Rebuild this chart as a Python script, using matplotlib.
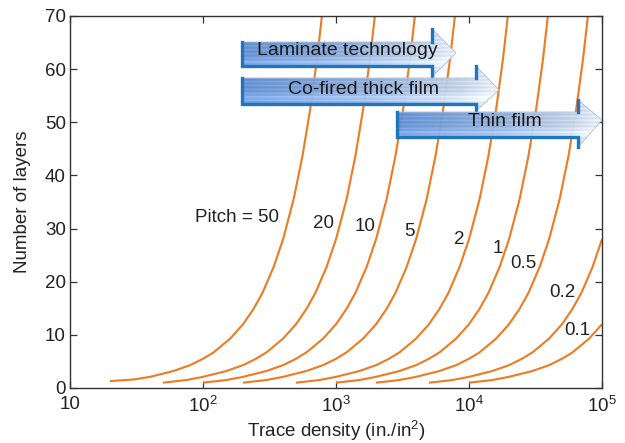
import numpy as np
import matplotlib
matplotlib.use("Agg")
import matplotlib.pyplot as plt
from matplotlib.patches import Polygon
from matplotlib.ticker import FixedLocator, FixedFormatter, NullLocator

plt.rcParams['font.family'] = ['Liberation Sans', 'DejaVu Sans']
plt.rcParams['mathtext.fontset'] = 'custom'
plt.rcParams['mathtext.rm'] = 'Liberation Sans'
plt.rcParams['mathtext.it'] = 'Liberation Sans:italic'

# ---- data: pitch -> (trace density, number of layers) ----
pitch_labels = ["Pitch = 50", "20", "10", "5", "2", "1", "0.5", "0.2", "0.1"]

density_p50 = [20, 30, 40, 60, 80, 100, 120, 160, 200, 240, 280, 340, 400, 480, 560, 640, 720, 800]
layers_p50 = [1.3, 1.6, 2.1, 3.2, 4.3, 5.5, 6.7, 9.3, 12.0, 14.9, 17.9, 22.8, 28.0, 35.5, 43.7, 52.5, 61.9, 72.0]

density_p20 = [50, 75, 100, 150, 200, 250, 300, 400, 500, 600, 700, 850, 1000, 1200, 1400, 1600, 1800, 2000]
layers_p20 = [1.0, 1.5, 2.1, 3.2, 4.3, 5.5, 6.7, 9.3, 12.0, 14.9, 17.9, 22.8, 28.0, 35.5, 43.7, 52.5, 61.9, 72.0]

density_p10 = [100, 150, 200, 300, 400, 500, 600, 800, 1000, 1200, 1400, 1700, 2000, 2400, 2800, 3200, 3600, 4000]
layers_p10 = [1.0, 1.5, 2.1, 3.2, 4.3, 5.5, 6.7, 9.3, 12.0, 14.9, 17.9, 22.8, 28.0, 35.5, 43.7, 52.5, 61.9, 72.0]

density_p5 = [200, 300, 400, 600, 800, 1000, 1200, 1600, 2000, 2400, 2800, 3400, 4000, 4800, 5600, 6400, 7200, 8000]
layers_p5 = [1.0, 1.5, 2.1, 3.2, 4.3, 5.5, 6.7, 9.3, 12.0, 14.9, 17.9, 22.8, 28.0, 35.5, 43.7, 52.5, 61.9, 72.0]

density_p2 = [500, 750, 1000, 1500, 2000, 2500, 3000, 4000, 5000, 6000, 7000, 8500, 10000, 12000, 14000, 16000, 18000, 20000]
layers_p2 = [1.0, 1.5, 2.1, 3.2, 4.3, 5.5, 6.7, 9.3, 12.0, 14.9, 17.9, 22.8, 28.0, 35.5, 43.7, 52.5, 61.9, 72.0]

density_p1 = [1000, 1500, 2000, 3000, 4000, 5000, 6000, 8000, 10000, 12000, 14000, 17000, 20000, 24000, 28000, 32000, 36000, 40000]
layers_p1 = [1.0, 1.5, 2.1, 3.2, 4.3, 5.5, 6.7, 9.3, 12.0, 14.9, 17.9, 22.8, 28.0, 35.5, 43.7, 52.5, 61.9, 72.0]

density_p05 = [2000, 3000, 4000, 6000, 8000, 10000, 12000, 16000, 20000, 24000, 28000, 34000, 40000, 48000, 56000, 64000, 72000, 80000]
layers_p05 = [1.0, 1.5, 2.1, 3.2, 4.3, 5.5, 6.7, 9.3, 12.0, 14.9, 17.9, 22.8, 28.0, 35.5, 43.7, 52.5, 61.9, 72.0]

density_p02 = [5000, 7500, 10000, 15000, 20000, 25000, 30000, 40000, 50000, 60000, 70000, 85000, 100000]
layers_p02 = [1.0, 1.5, 2.1, 3.2, 4.3, 5.5, 6.7, 9.3, 12.0, 14.9, 17.9, 22.8, 28.0]

density_p01 = [10000, 15000, 20000, 30000, 40000, 50000, 60000, 80000, 100000]
layers_p01 = [1.0, 1.5, 2.1, 3.2, 4.3, 5.5, 6.7, 9.3, 12.0]

curves = [
    (density_p50, layers_p50), (density_p20, layers_p20), (density_p10, layers_p10),
    (density_p5, layers_p5), (density_p2, layers_p2), (density_p1, layers_p1),
    (density_p05, layers_p05), (density_p02, layers_p02), (density_p01, layers_p01),
]

# label anchor positions (data coordinates)
label_x = [180, 800, 1650, 3550, 8400, 16500, 25500, 50000, 65000]
label_y = [32.0, 31.0, 30.3, 29.4, 28.0, 26.3, 23.5, 17.9, 10.9]

x_ticks = [10, 100, 1000, 10000, 100000]
x_tick_labels = ["10", "$10^2$", "$10^3$", "$10^4$", "$10^5$"]
y_ticks = [0, 10, 20, 30, 40, 50, 60, 70]

tech_labels = ["Laminate technology", "Co-fired thick film", "Thin film"]

# ---- figure ----
W, H = 625, 443
fig = plt.figure(figsize=(W / 100, H / 100), dpi=100)
ax = fig.add_axes([70 / W, 1 - 388 / H, 532 / W, 372 / H])

line_color = '#EE7A22'
for d, n in curves:
    ax.plot(d, n, color=line_color, lw=1.5, solid_capstyle='butt', zorder=2)

ax.set_xscale('log')
ax.set_xlim(10, 1e5)
ax.set_ylim(0, 70)
ax.xaxis.set_major_locator(FixedLocator(x_ticks))
ax.xaxis.set_major_formatter(FixedFormatter(x_tick_labels))
ax.xaxis.set_minor_locator(NullLocator())
ax.set_yticks(y_ticks)

ax.tick_params(axis='both', which='major', direction='in', length=5, width=0.9,
               color='#333333', labelsize=13.5, labelcolor='#222222',
               top=True, right=True)
ax.tick_params(axis='x', pad=6)
ax.tick_params(axis='y', pad=3)
for s in ax.spines.values():
    s.set_color('#333333')
    s.set_linewidth(1.0)

ax.set_xlabel("Trace density (in./in$^2$)", fontsize=13.5, color='#222222', labelpad=2)
ax.set_ylabel("Number of layers", fontsize=13.5, color='#222222', labelpad=10)

for lab, lx, ly in zip(pitch_labels, label_x, label_y):
    ax.text(lx, ly, lab, fontsize=13.5, color='#222222', ha='center', va='center', zorder=3)

# ---- block arrows on an overlay axes (axes-fraction coordinates) ----
ov = fig.add_axes(ax.get_position())
ov.set_xlim(0, 1)
ov.set_ylim(0, 1)
ov.axis('off')


def fx(px):
    return (px - 70) / 532


def fy(py):
    return (388 - py) / 372


# (left, body_top, body_bottom, head_base, head_top, head_bottom, tip_x, tip_y) in pixels
arrow_geom = [
    (242, 42, 66, 432, 29, 77, 456, 53),
    (242, 78, 104, 476, 66, 111, 499, 90),
    (397, 112, 137, 578, 100, 147, 602, 120),
]
text_pos = [(347, 51), (363, 90), (505, 122)]

grad_stops = np.array([0.0, 0.5, 0.85, 1.0])
grad_cols = np.array([[0.36, 0.54, 0.80], [0.54, 0.66, 0.83],
                      [0.74, 0.80, 0.88], [0.90, 0.92, 0.95]])
edge_blue = '#1F76BE'

for i, (g, lab, tp) in enumerate(zip(arrow_geom, tech_labels, text_pos)):
    L, bt, bb, hb, ht, hbo, tx, ty = g
    pts = [(fx(L), fy(bt)), (fx(hb), fy(bt)), (fx(hb), fy(ht)), (fx(tx), fy(ty)),
           (fx(hb), fy(hbo)), (fx(hb), fy(bb)), (fx(L), fy(bb))]
    poly = Polygon(pts, closed=True, facecolor='none', edgecolor='#a9bcd6', lw=0.6,
                   zorder=5 + 3 * i)
    ov.add_patch(poly)
    nx, ny = 240, 60
    t = np.linspace(0, 1, nx)
    img = np.zeros((ny, nx, 4))
    for c in range(3):
        img[:, :, c] = np.interp(t, grad_stops, grad_cols[:, c])[None, :]
    rows = np.arange(ny)
    stripe = ((rows % 5) < 2).astype(float)[:, None, None] * 0.07
    img[:, :, :3] = np.clip(img[:, :, :3] + stripe, 0, 1)
    band = np.exp(-((rows / ny - 0.70) / 0.10) ** 2)[:, None, None] * 0.10
    img[:, :, :3] = np.clip(img[:, :, :3] + band, 0, 1)
    img[:, :, 3] = 0.96
    im = ov.imshow(img, extent=[fx(L), fx(tx), fy(hbo), fy(ht)], origin='upper',
                   aspect='auto', interpolation='bilinear', zorder=4 + 3 * i)
    im.set_clip_path(poly)
    ov.plot([fx(L), fx(L), fx(hb), fx(hb)], [fy(bt), fy(bb), fy(bb), fy(hbo)],
            color=edge_blue, lw=2.4, solid_joinstyle='miter', zorder=5 + 3 * i)
    ov.plot([fx(hb), fx(hb)], [fy(ht), fy(bt)], color=edge_blue, lw=2.4, zorder=5 + 3 * i)
    ov.text(fx(tp[0]), fy(tp[1]), lab, fontsize=14, color='#1a1a1a', ha='center',
            va='center', zorder=6 + 3 * i)
ov.set_xlim(0, 1)
ov.set_ylim(0, 1)

fig.savefig("out.png", dpi=100)
